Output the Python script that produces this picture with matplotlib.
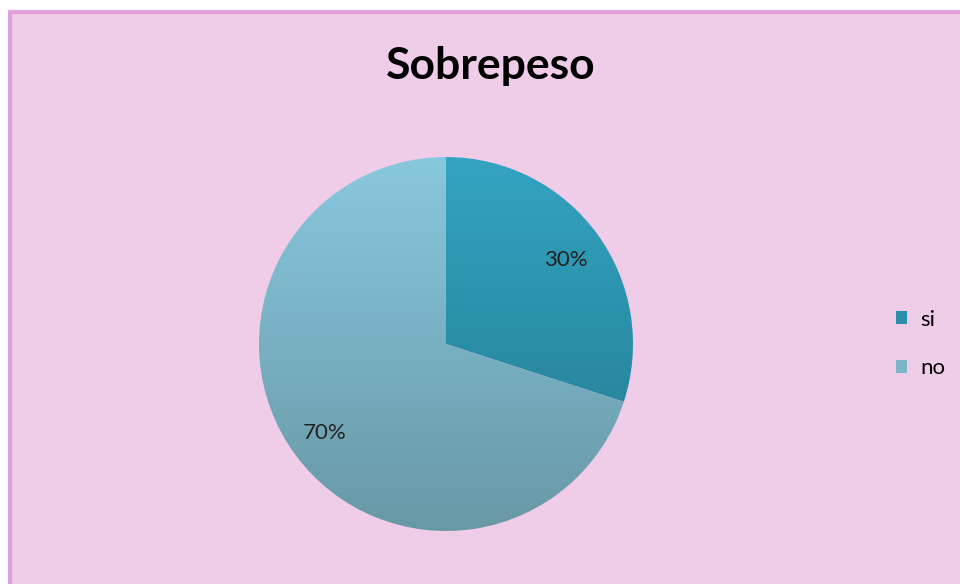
import matplotlib
matplotlib.use("Agg")
import matplotlib.pyplot as plt
import numpy as np
from matplotlib.colors import LinearSegmentedColormap
from matplotlib.patches import Patch, Rectangle

title = "Sobrepeso"
categories = ["si", "no"]
values = [30, 70]
top_colors = ["#33A4C2", "#88C8DE"]
bottom_colors = ["#22788D", "#6898A6"]
mid_colors = ["#2A8FAA", "#7AB6C8"]

W, H = 960, 584
fig = plt.figure(figsize=(W / 100, H / 100), dpi=100)
fig.patch.set_facecolor("white")
ax = fig.add_axes([0, 0, 1, 1])
ax.set_xlim(0, W)
ax.set_ylim(0, H)
ax.axis("off")

# chart area background + border
ax.add_patch(Rectangle((10, -5), W, H - 12 + 5, facecolor="#EFCDE8",
                       edgecolor="#DFA2D8", linewidth=3, zorder=0))

cx, cy, r = 446, H - 344, 187
wedges, _ = ax.pie(values, center=(cx, cy), radius=r, startangle=90,
                   counterclock=False, frame=True,
                   wedgeprops=dict(facecolor="none", edgecolor="none"))
ax.set_xlim(0, W)
ax.set_ylim(0, H)
ax.set_aspect("equal")
ax.axis("off")

grad = np.linspace(0, 1, 256).reshape(-1, 1)
for w, tc, bc in zip(wedges, top_colors, bottom_colors):
    cmap = LinearSegmentedColormap.from_list("g", [bc, tc])
    im = ax.imshow(grad, cmap=cmap, origin="lower", aspect="auto",
                   extent=[cx - r, cx + r, cy - r, cy + r], zorder=1)
    im.set_clip_path(w)

lab_font = "Lato"
ax.text(566, H - 260, f"{values[0]}%", ha="center", va="center",
        fontsize=16, color="#222222", family=lab_font, zorder=3)
ax.text(325, H - 433, f"{values[1]}%", ha="center", va="center",
        fontsize=16, color="#222222", family=lab_font, zorder=3)

ax.text(491, H - 66, title, ha="center", va="center", fontsize=32,
        fontweight="bold", color="black", family="Lato", zorder=3)

handles = [Patch(facecolor=c, edgecolor="none") for c in mid_colors]
leg = ax.legend(handles, categories, loc="center left",
                bbox_to_anchor=(876 / W, 1 - 344 / H), frameon=False,
                prop={"family": lab_font, "size": 16}, handlelength=0.5,
                handleheight=0.5, handletextpad=0.6, labelspacing=1.3)

fig.savefig("out.png", dpi=100, facecolor=fig.get_facecolor())
